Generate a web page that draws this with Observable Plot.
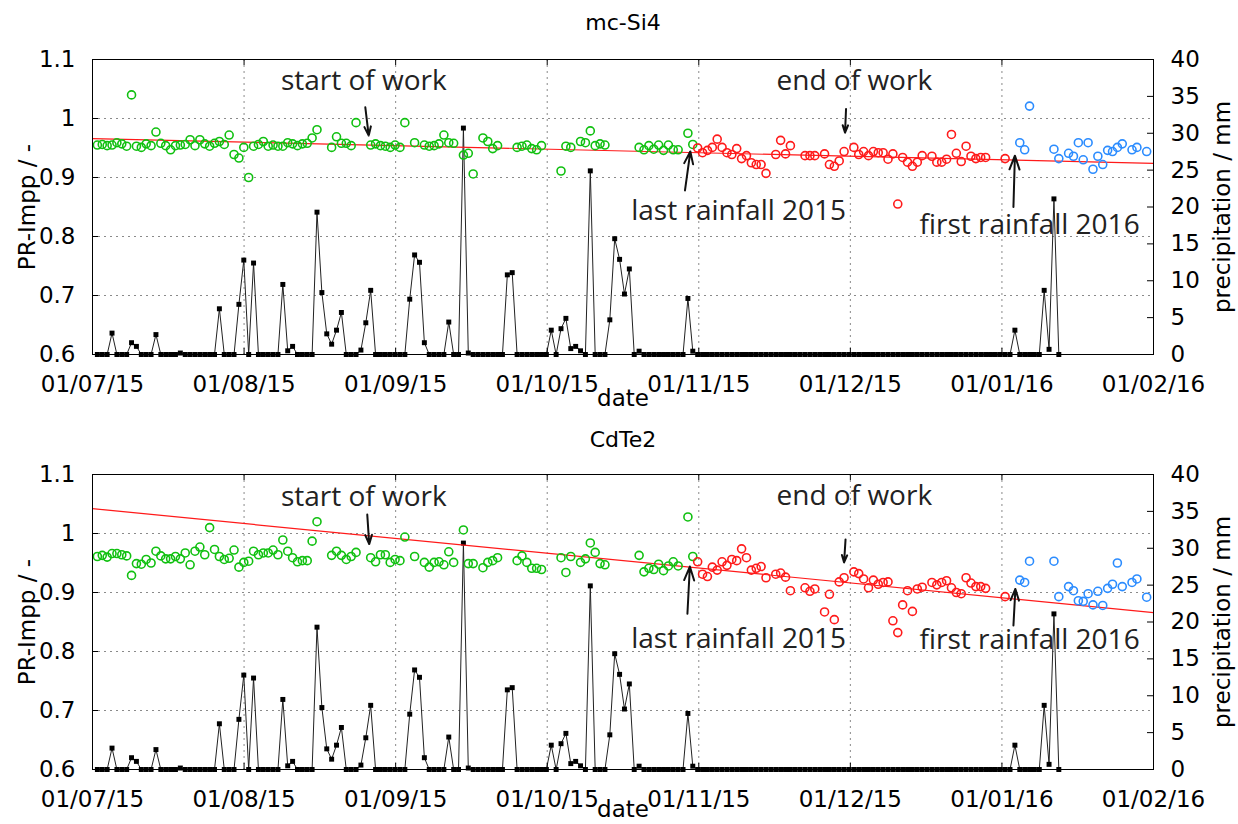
<!DOCTYPE html>
<html><head><meta charset="utf-8">
<script src="https://cdn.jsdelivr.net/npm/d3@7"></script>
<script src="https://cdn.jsdelivr.net/npm/@observablehq/plot@0.6"></script>
<style>
body{margin:0;background:#fff;}
#wrap{position:relative;width:1238px;height:824px;overflow:hidden;background:#fff;}
#wrap svg{position:absolute;left:0;}
</style></head><body><div id="wrap"></div>
<script>
// ---------- data ----------
const panelTitles = ["mc-Si4", "CdTe2"];
const xTickLabels = ["01/07/15","01/08/15","01/09/15","01/10/15","01/11/15","01/12/15","01/01/16","01/02/16"];
const dayMax = 217.4;                       // x extent in days from the first tick
const prTicks = [0.6, 0.7, 0.8, 0.9, 1.0, 1.1];
const prGrid = [0.7, 0.8, 0.9, 1.0];
const mmTicks = [0, 5, 10, 15, 20, 25, 30, 35, 40];

// daily precipitation (mm), starting at day 1
const precipStartDay = 1;
const precipitation = [
 0,0,0,2.9,0,0,0,1.6,1.1,0,
 0,0,2.7,0,0,0,0,0.2,0,0,
 0,0,0,0,0,6.2,0,0,0,6.8,
 12.8,0,12.4,0,0,0,0,0,9.5,0.5,
 1.1,0,0,0,0,19.3,8.4,2.8,1.4,3.3,
 5.7,0,0,0,0.6,4.3,8.7,0,0,0,
 0,0,0,0,7.5,13.5,12.5,1.6,0,0,
 0,0,4.4,0,0,30.7,0.2,0,0,0,
 0,0,0,0,10.8,11.1,0,0,0,0,
 0,0,0,3.3,0,3.5,4.9,0.8,1.1,0.5,
 0,24.9,0,0,0,4.7,15.7,12.9,8.2,11.6,
 0,0.45,0,0,0,0,0,0,0,0,
 0,7.6,0.45,0,0,0,0,0,0,0,
 0,0,0,0,0,0,0,0,0,0,
 0,0,0,0,0,0,0,0,0,0,
 0,0,0,0,0,0,0,0,0,0,
 0,0,0,0,0,0,0,0,0,0,
 0,0,0,0,0,0,0,0,0,0,
 0,0,0,0,0,0,0,0,3.3,0,
 0,0,0,0,8.7,0.7,21.1,0
];

// PR-Impp, mc-Si4
const greenStart = 1, redStart = 124, blueStart = 190;
const si4Green = [
 0.955,0.956,0.954,0.955,0.959,0.957,0.953,1.040,0.953,0.951,
 0.957,0.954,0.977,0.958,0.954,0.947,0.954,0.955,0.956,0.964,
 0.954,0.964,0.957,0.953,0.958,0.961,0.956,0.972,0.939,0.933,
 0.951,0.900,0.953,0.956,0.961,0.953,0.955,0.953,0.953,0.959,
 0.957,0.954,0.957,0.958,0.967,0.981,null,null,0.951,0.969,
 0.958,0.958,0.954,0.993,null,null,0.955,0.957,0.954,0.953,
 0.951,0.955,0.951,0.993,null,0.959,null,0.955,0.953,0.954,
 0.957,0.972,0.959,0.958,null,0.938,0.941,0.906,null,0.967,
 0.961,0.949,0.954,null,null,null,0.951,0.953,0.955,0.949,
 0.947,0.954,null,null,null,0.911,0.953,0.951,null,0.961,
 0.959,0.979,0.954,0.957,0.955,null,null,null,null,null,
 null,0.951,0.947,0.954,0.948,0.955,0.946,0.955,0.947,0.947,
 null,0.975,0.956
];
const si4Red = [
 0.950,0.942,0.946,0.951,0.965,0.951,0.942,0.939,0.949,0.932,
 0.937,0.925,0.922,0.922,0.907,null,0.939,0.963,0.940,0.954,
 null,null,0.937,0.937,0.937,null,0.940,0.922,0.919,0.928,
 0.944,null,0.951,0.939,0.944,0.937,0.944,0.942,0.942,0.931,
 0.940,0.855,0.934,0.926,0.919,0.926,0.937,null,0.936,0.926,
 0.926,0.931,0.973,0.941,0.927,0.953,0.936,0.932,0.934,0.934,
 null,null,null,0.932
];
const si4Blue = [
 0.959,0.947,1.021,null,null,null,null,0.948,0.932,null,
 0.941,0.936,0.959,0.930,0.959,0.914,0.936,0.922,0.946,0.944,
 0.951,0.957,null,0.947,0.951,null,0.944
];
// PR-Impp, CdTe2
const cdteGreen = [
 0.961,0.963,0.960,0.966,0.966,0.964,0.962,0.929,0.949,0.948,
 0.956,0.950,0.970,0.962,0.957,0.957,0.961,0.957,0.967,0.947,
 0.970,0.977,0.964,1.010,0.973,0.961,0.956,0.958,0.972,0.943,
 0.951,0.953,0.970,0.964,0.967,0.967,0.972,0.964,0.989,0.970,
 0.959,0.952,0.954,0.954,0.987,1.020,null,null,0.963,0.970,
 0.963,0.956,0.961,0.968,null,null,0.959,0.952,0.964,0.964,
 0.951,0.956,0.954,0.994,null,0.961,null,0.951,0.943,0.951,
 0.952,0.947,0.969,0.951,null,1.006,0.949,0.949,null,0.942,
 0.951,0.954,0.959,null,null,null,0.954,0.962,0.951,0.941,
 0.941,0.939,null,null,null,0.959,0.934,0.961,null,0.951,
 0.957,0.984,0.968,0.949,0.947,null,null,null,null,null,
 null,0.963,0.935,0.941,0.939,0.948,0.937,0.945,0.952,0.945,
 null,1.028,0.961
];
const cdteRed = [
 0.952,0.931,0.927,0.943,0.938,0.952,0.946,0.956,0.954,0.974,
 0.959,0.938,0.941,0.944,0.925,null,0.931,0.933,0.926,0.903,
 null,null,0.908,0.902,0.906,null,0.867,0.897,0.854,0.918,
 0.925,null,0.935,0.932,0.923,0.908,0.921,0.914,0.917,0.918,
 0.852,0.832,0.879,0.903,0.868,0.906,0.909,null,0.917,0.913,
 0.917,0.920,0.908,0.900,0.898,0.925,0.916,0.910,0.910,0.907,
 null,null,null,0.893
];
const cdteBlue = [
 0.921,0.917,0.953,null,null,null,null,0.953,0.893,null,
 0.910,0.903,0.886,0.885,0.898,0.879,0.902,0.878,0.907,0.914,
 0.950,0.910,null,0.917,0.923,null,0.892
];

// linear trend end values (at x = 0 and x = dayMax)
const si4Trend = [0.966, 0.924];
const cdteTrend = [1.042, 0.866];

// annotations
const annotationTexts = ["start of work", "end of work", "last rainfall 2015", "first rainfall 2016"];
const si4LabelDay = [55.6, 156.1, 132.4, 192.0];
const si4LabelPR  = [1.063, 1.063, 0.844, 0.820];
const si4ArrowFromDay = [55.9, 154.4, 121.4, 188.7];
const si4ArrowFromPR  = [1.019, 1.016, 0.878, 0.850];
const si4ArrowToDay   = [56.6, 154.2, 122.5, 189.0];
const si4ArrowToPR    = [0.971, 0.976, 0.944, 0.937];
const cdteLabelDay = [55.6, 156.1, 132.4, 192.0];
const cdteLabelPR  = [1.061, 1.063, 0.821, 0.819];
const cdteArrowFromDay = [56.3, 154.3, 121.9, 188.7];
const cdteArrowFromPR  = [1.032, 0.990, 0.864, 0.844];
const cdteArrowToDay   = [56.7, 154.0, 122.4, 189.1];
const cdteArrowToPR    = [0.982, 0.951, 0.944, 0.906];

// ---------- helpers ----------
const mmToPR = mm => 0.6 + mm / 80;   // right axis 0..40 mm mapped onto 0.6..1.1
const xTickDays = xTickLabels.map((_, i) => i * dayMax / 7);
const rows = (vals, start) => vals.map((v, i) => ({day: start + i, pr: v})).filter(d => d.pr != null);
const precipRows = precipitation.map((mm, i) => ({day: precipStartDay + i, pr: mmToPR(mm)}));

const GREEN = "#10c010", RED = "#ff1a1a", BLUE = "#2b8cff";
const W = 1238, H = 412, ML = 92, MR = 85;
const centered = {textAnchor: "middle", lineAnchor: "middle"};

function panel(o) {
  const innerW = W - ML - MR, innerH = H - o.mt - o.mb;
  const ann = annotationTexts.map((t, i) => ({t, x: o.labelDay[i], y: o.labelPR[i],
    x1: o.fromDay[i], y1: o.fromPR[i], x2: o.toDay[i], y2: o.toPR[i]}));
  const trend = [{day: 0, pr: o.trend[0]}, {day: dayMax, pr: o.trend[1]}];
  return Plot.plot({
    width: W, height: H, marginLeft: ML, marginRight: MR, marginTop: o.mt, marginBottom: o.mb,
    x: {domain: [0, dayMax]},
    y: {domain: [0.6, 1.1]},
    style: {fontFamily: "DejaVu Sans, sans-serif", fontSize: "23px", color: "#000", background: "#fff", overflow: "visible"},
    marks: [
      Plot.gridY(prGrid, {stroke: "#8a8a8a", strokeOpacity: 1, strokeDasharray: "2,4", strokeWidth: 1}),
      Plot.gridX(xTickDays.slice(1, -1), {stroke: "#8a8a8a", strokeOpacity: 1, strokeDasharray: "2,4", strokeWidth: 1}),
      Plot.line(precipRows, {x: "day", y: "pr", stroke: "#222", strokeWidth: 1}),
      Plot.dot(precipRows, {x: "day", y: "pr", symbol: "square", r: 2.8, fill: "#000", stroke: "none"}),
      Plot.line(trend, {x: "day", y: "pr", stroke: RED, strokeWidth: 1.2}),
      Plot.dot(rows(o.green, greenStart), {x: "day", y: "pr", r: 4, stroke: GREEN, strokeWidth: 1.6, fill: "none"}),
      Plot.dot(rows(o.red, redStart), {x: "day", y: "pr", r: 4, stroke: RED, strokeWidth: 1.6, fill: "none"}),
      Plot.dot(rows(o.blue, blueStart), {x: "day", y: "pr", r: 4, stroke: BLUE, strokeWidth: 1.6, fill: "none"}),
      Plot.arrow(ann, {x1: "x1", y1: "y1", x2: "x2", y2: "y2", stroke: "#111", strokeWidth: 2, headLength: 11, headAngle: 40}),
      Plot.text(ann, {x: "x", y: "y", text: "t", fontFamily: "Open Sans", fontSize: 28, fill: "#222", ...centered}),
      Plot.frame({stroke: "#000", strokeWidth: 1}),
      Plot.tickY(prTicks, {y: d => d, insetRight: innerW - 6, stroke: "#000"}),
      Plot.tickY(mmTicks.map(mmToPR), {y: d => d, insetLeft: innerW - 6, stroke: "#000"}),
      Plot.tickX(xTickDays, {x: d => d, insetTop: innerH - 6, stroke: "#000"}),
      Plot.tickX(xTickDays, {x: d => d, insetBottom: innerH - 6, stroke: "#000"}),
      Plot.axisY(prTicks, {anchor: "left", tickSize: 0, tickPadding: 17, label: null,
        tickFormat: d => d === 1 ? "1" : d.toFixed(1)}),
      Plot.axisY(mmTicks.map(mmToPR), {anchor: "right", tickSize: 0, tickPadding: 17, label: null,
        tickFormat: d => String(Math.round((d - 0.6) * 80))}),
      Plot.axisX(xTickDays, {anchor: "bottom", tickSize: 0, tickPadding: 21, label: null,
        tickFormat: d => xTickLabels[Math.round(d / (dayMax / 7))]}),
      Plot.text([o.title], {frameAnchor: "top", dy: -o.titleOffset, text: d => d, fontSize: 22, ...centered}),
      Plot.text(["PR-Impp / -"], {frameAnchor: "left", dx: -65, rotate: -90, text: d => d, ...centered}),
      Plot.text(["precipitation / mm"], {frameAnchor: "right", dx: 69, rotate: -90, text: d => d, ...centered}),
      Plot.text(["date"], {frameAnchor: "bottom", dy: o.dateOffset, text: d => d, ...centered})
    ]
  });
}

const wrap = document.getElementById("wrap");
const p1 = panel({title: panelTitles[0], mt: 59, mb: 58, titleOffset: 37, dateOffset: 44,
  green: si4Green, red: si4Red, blue: si4Blue, trend: si4Trend,
  labelDay: si4LabelDay, labelPR: si4LabelPR, fromDay: si4ArrowFromDay, fromPR: si4ArrowFromPR,
  toDay: si4ArrowToDay, toPR: si4ArrowToPR});
p1.style.top = "0px";
wrap.appendChild(p1);
const p2 = panel({title: panelTitles[1], mt: 62, mb: 55, titleOffset: 35, dateOffset: 40,
  green: cdteGreen, red: cdteRed, blue: cdteBlue, trend: cdteTrend,
  labelDay: cdteLabelDay, labelPR: cdteLabelPR, fromDay: cdteArrowFromDay, fromPR: cdteArrowFromPR,
  toDay: cdteArrowToDay, toPR: cdteArrowToPR});
p2.style.top = "412px";
wrap.appendChild(p2);
</script></body></html>
